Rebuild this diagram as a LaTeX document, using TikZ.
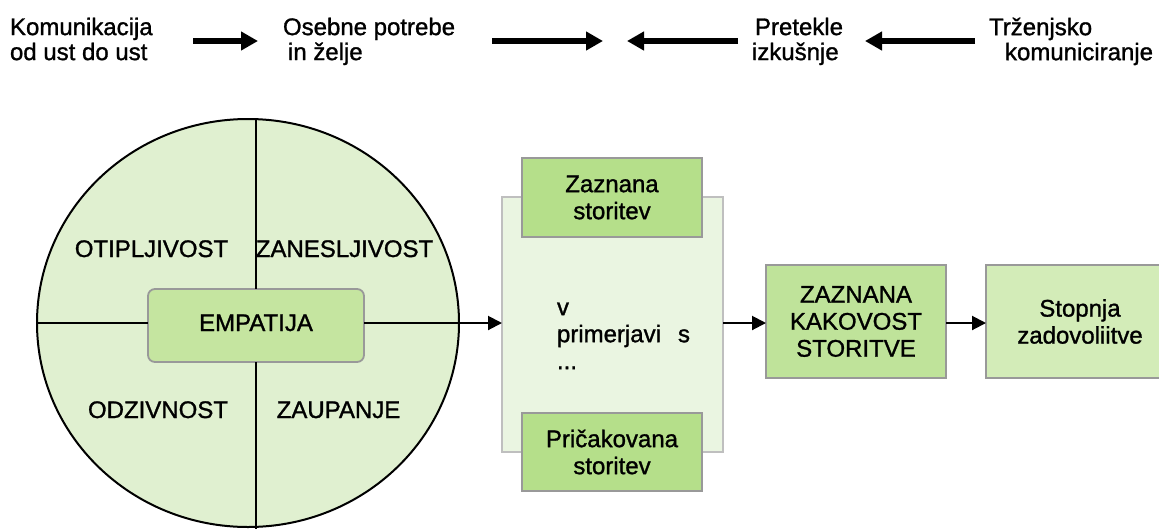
\documentclass[tikz,border=0pt]{standalone}
\usepackage{fontspec}
\setmainfont{Liberation Sans}[UprightFeatures={FakeBold=1.2}]
\usetikzlibrary{shapes.geometric,arrows.meta}
\definecolor{circfill}{HTML}{E0F0D0}
\definecolor{empfill}{HTML}{C5E5A0}
\definecolor{midfill}{HTML}{EAF5E1}
\definecolor{subfill}{HTML}{B5DF8A}
\definecolor{kakfill}{HTML}{BFE39A}
\definecolor{zadfill}{HTML}{D3ECB8}
\definecolor{boxline}{HTML}{999999}
\definecolor{midline}{HTML}{BFBFBF}
\begin{document}
\begin{tikzpicture}[x=1pt,y=-1pt,
  every node/.style={inner sep=0pt,outer sep=0pt,font=\fontsize{24}{27}\selectfont},
  toptext/.style={anchor=north west,align=left,font=\fontsize{24}{25}\selectfont},
  quad/.style={anchor=base},
  greenbox/.style={draw=boxline,line width=1.8pt,align=center},
  bigarrow/.style={line width=5.5pt,-{Triangle[length=17pt,width=18pt]}},
  smallarrow/.style={line width=2pt,-{Triangle[length=14pt,width=14pt]}},
  divline/.style={line width=2pt}]
\useasboundingbox (0,0) rectangle (1159,528);

% top row
\node[toptext] (kom) at (10,17.7) {Komunikacija\\od ust do ust};
\node[toptext] (ose) at (283,17.7) {Osebne potrebe\\\hspace*{5pt}in želje};
\node[toptext] (pre) at (752,17.7) {\hspace*{3pt}Pretekle\\izkušnje};
\node[toptext] (trz) at (989,17.7) {Trženjsko\\\hspace*{16pt}komuniciranje};
\coordinate (a1s) at (193,41); \coordinate (a1e) at (258,41);
\coordinate (a2s) at (492,41); \coordinate (a2e) at (603,41);
\coordinate (a3s) at (738,41); \coordinate (a3e) at (627,41);
\coordinate (a4s) at (975,41); \coordinate (a4e) at (865,41);
\draw[bigarrow] (a1s) -- (a1e);
\draw[bigarrow] (a2s) -- (a2e);
\draw[bigarrow] (a3s) -- (a3e);
\draw[bigarrow] (a4s) -- (a4e);

% circle
\node[ellipse,draw,line width=2pt,fill=circfill,minimum width=422pt,minimum height=408pt] (circ) at (248,323) {};
\node[draw=boxline,line width=1.8pt,fill=empfill,rounded corners=7pt,minimum width=216pt,minimum height=73pt,text height=17pt,text depth=6pt] (emp) at (256,325.5) {EMPATIJA};
\coordinate (hl) at (37,323);
\coordinate (vt) at (256,119.2);
\coordinate (vb) at (256,529);
\draw[divline] (hl) -- (emp.west |- hl);
\draw[divline] (vt) -- (emp.north);
\draw[divline] (emp.south) -- (vb);
\node[quad] (otip) at (151.5,257) {OTIPLJIVOST};
\node[quad] (zane) at (344.5,257) {ZANESLJIVOST};
\node[quad] (odzi) at (158,418) {ODZIVNOST};
\node[quad] (zaup) at (338.5,418) {ZAUPANJE};

% middle comparison box
\node[draw=midline,line width=1.8pt,fill=midfill,minimum width=221pt,minimum height=255pt] (mid) at (612.5,324.5) {};
\node[greenbox,fill=subfill,minimum width=180pt,minimum height=79pt] (zs) at (612,197.5) {Zaznana\\storitev};
\node[greenbox,fill=subfill,minimum width=180pt,minimum height=78pt] (ps) at (612,452) {Pričakovana\\storitev};
\node[anchor=north west,align=left] (cmp) at (557,302.5) {v\\primerjavi\hspace{17pt}s\\...};

% right boxes
\node[greenbox,fill=kakfill,minimum width=180pt,minimum height=113pt] (zk) at (856,321.5) {ZAZNANA\\KAKOVOST\\STORITVE};
\node[greenbox,fill=zadfill,minimum width=188pt,minimum height=113pt] (sz) at (1080,321.5) {Stopnja\\zadovoliitve};

% connectors
\draw[smallarrow] (emp.east |- hl) -- (mid.west |- hl);
\draw[smallarrow] (mid.east |- hl) -- (zk.west |- hl);
\draw[smallarrow] (zk.east |- hl) -- (sz.west |- hl);
\end{tikzpicture}
\end{document}
